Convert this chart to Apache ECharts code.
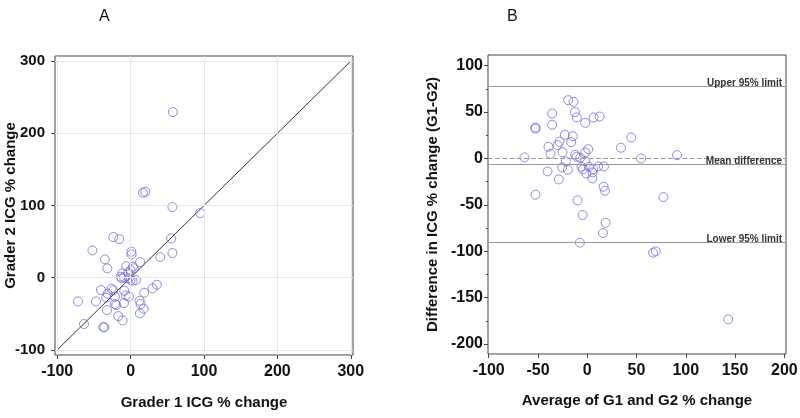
<!DOCTYPE html>
<html><head><meta charset="utf-8">
<script src="https://cdn.jsdelivr.net/npm/echarts@6/dist/echarts.min.js"></script>
<style>html,body{margin:0;padding:0;background:#fff}#c{width:800px;height:418px}</style>
</head><body><div id="c"></div>
<script>
// Panel A: Grader 1 vs Grader 2 ICG % change
const grader1 = [57.6,16.8,20,57,94.8,-23.6,-15.4,55.3,-52,1,1.4,57,40.4,-35,13,-31.7,-5.9,4.5,0,-11.3,-3.2,-9,-12.2,2.7,7.3,0,35.8,29.9,18.6,-40.4,-25.9,-23.6,-31.3,-8.6,-21.3,-6.3,-2.3,-71.7,-47.2,-33.1,12.2,13.6,-9,-21.3,-19.5,-32.2,17.7,12.7,-16.8,-10.9,-63.5,-37.2,-35.8,-13.6,-2.3,3.2];
const grader2 = [229.3,117.6,119,97.8,89.5,56.3,53.5,54.4,37.8,36,32.3,34.1,28.6,25.4,21.7,12.9,16.1,12.9,10.6,6,6.9,0.5,-0.9,-4.2,-3.2,-3.2,-9.7,-14.8,-20.8,-17.1,-15.2,-17.5,-22.1,-18,-26.3,-24.5,-26.3,-32.8,-32.8,-27.7,-31.8,-36.4,-35.1,-36.4,-37.8,-44.8,-42.9,-49.4,-53.1,-59.1,-64.1,-68.3,-68.7,1.4,-0.9,15.2];
const identityLine = [-100, 300];
const ticksA = [-100, 0, 100, 200, 300];

// Panel B: Bland-Altman
const baAverage = [143,66.8,69.5,77.3,91.2,54.6,34.2,44.7,-63.7,-52.5,-52.5,-52.5,-35.6,-35.6,-39.3,-37.3,-40.3,-28.8,-30.2,-28.1,-25.1,-22.7,-21.7,-25.4,-19.7,-19.3,-13.9,-12.5,-10.5,-14.6,-16.3,-12.2,-10.8,-2,6.4,12.5,-9.8,-4.7,-7.5,18.6,16,16.6,18,16.9,11.2,5.4,5.1,-1,1,-2,-7.1,-2,-5.8,-4.4,1.7,6.1];
const baDifference = [-173.4,-101.6,-100.2,-41.7,3.6,0,11.5,22.6,1.1,33.4,32,-39.1,48.5,36.3,12.6,5,-14,-22.6,14.4,18,6.8,25.5,-3.2,-9.7,-12.2,62.8,61,49.9,44.2,24,17.6,4,1.8,38.4,44.2,45.2,-45.2,-61,-90.8,-69.3,-80.4,-30.5,-34.8,-8.6,-8.6,-15.1,-21.5,-16.2,10,6.5,0.7,-3.2,-9,-11.8,-9,-11.5];
const upperLimit = 78;
const meanDifference = -6.3;
const lowerLimit = -90;
const zeroLine = 0;
const ticksBx = [-100, -50, 0, 50, 100, 150, 200];
const ticksBy = [-200, -150, -100, -50, 0, 50, 100];
const minorBy = [-175, -125, -75, -25, 25, 75];

const zip = (a, b) => a.map((v, i) => [v, b[i]]);
const FONT = 'Liberation Sans, Arial, sans-serif';
const markerStyle = {color: 'rgba(0,0,0,0)', borderColor: '#7070da', borderWidth: 1};
const tickLabel = (vals, size, margin) => ({customValues: vals, fontFamily: FONT, fontWeight: 'bold', fontSize: size, color: '#111', margin: margin});
const tickStyle = (vals, len) => ({show: true, customValues: vals, length: len, lineStyle: {color: '#444', width: 1}});
const nameStyle = {fontFamily: FONT, fontWeight: 'bold', fontSize: 15, color: '#111'};
const noLine = {show: false, onZero: false};

const chart = echarts.init(document.getElementById('c'), null, {renderer: 'canvas'});
chart.setOption({
  animation: false,
  backgroundColor: '#fff',
  title: [
    {text: 'A', left: 94, top: 4, textStyle: {fontFamily: FONT, fontWeight: 'normal', fontSize: 16, color: '#111'}},
    {text: 'B', left: 502, top: 4, textStyle: {fontFamily: FONT, fontWeight: 'normal', fontSize: 16, color: '#111'}}
  ],
  grid: [
    {left: 55, right: 447, top: 56, bottom: 63, show: true, borderColor: '#444', borderWidth: 1, containLabel: false, outerBoundsMode: 'none'},
    {left: 488, right: 14, top: 55, bottom: 64, show: true, borderColor: '#444', borderWidth: 1, containLabel: false, outerBoundsMode: 'none'}
  ],
  xAxis: [
    {type: 'value', gridIndex: 0, position: 'bottom', min: -103, max: 303, axisLine: noLine,
     axisTick: tickStyle(ticksA, 4), axisLabel: tickLabel(ticksA, 16, 9), splitLine: {show: false},
     name: 'Grader 1 ICG % change', nameLocation: 'middle', nameGap: 40, nameMoveOverlap: false, nameTextStyle: nameStyle},
    {type: 'value', gridIndex: 1, position: 'bottom', min: -100.7, max: 201.7, axisLine: noLine,
     axisTick: tickStyle(ticksBx, 4), axisLabel: tickLabel(ticksBx, 16, 9), splitLine: {show: false},
     name: 'Average of G1 and G2 % change', nameLocation: 'middle', nameGap: 39, nameMoveOverlap: false, nameTextStyle: nameStyle}
  ],
  yAxis: [
    {type: 'value', gridIndex: 0, position: 'left', min: -107, max: 307, axisLine: noLine,
     axisTick: tickStyle(ticksA, 4), axisLabel: tickLabel(ticksA, 15, 10), splitLine: {show: false},
     name: 'Grader 2 ICG % change', nameLocation: 'middle', nameGap: 37, nameMoveOverlap: false, nameTextStyle: nameStyle},
    {type: 'value', gridIndex: 1, position: 'left', min: -210.8, max: 111.5, axisLine: noLine,
     axisTick: tickStyle(ticksBy, 4), axisLabel: tickLabel(ticksBy, 16, 5), splitLine: {show: false},
     name: 'Difference in ICG % change (G1-G2)', nameLocation: 'middle', nameGap: 48, nameMoveOverlap: false, nameTextStyle: nameStyle},
    {type: 'value', gridIndex: 1, position: 'left', offset: 0, min: -210.8, max: 111.5, axisLine: noLine,
     axisTick: tickStyle(minorBy, 2), axisLabel: {show: false}, splitLine: {show: false}}
  ],
  series: [
    {type: 'line', xAxisIndex: 0, yAxisIndex: 0, silent: true, symbol: 'none', data: [],
     markLine: {silent: true, symbol: 'none', label: {show: false},
       lineStyle: {color: '#e6e6e6', width: 1, type: 'solid'},
       data: ticksA.map(v => ({xAxis: v})).concat(ticksA.map(v => ({yAxis: v})))}},
    {type: 'line', xAxisIndex: 0, yAxisIndex: 0, silent: true, symbol: 'none',
     lineStyle: {color: '#333', width: 1}, data: zip(identityLine, identityLine), z: 3},
    {type: 'scatter', xAxisIndex: 0, yAxisIndex: 0, symbol: 'circle', symbolSize: 9,
     itemStyle: markerStyle, data: zip(grader1, grader2), z: 4},
    {type: 'scatter', xAxisIndex: 1, yAxisIndex: 1, symbol: 'circle', symbolSize: 9,
     itemStyle: markerStyle, data: zip(baAverage, baDifference), z: 4,
     markLine: {silent: true, symbol: 'none', animation: false,
       lineStyle: {color: '#999', width: 1.2, type: 'solid'},
       label: {show: true, position: 'insideEndTop', distance: [4, -2], fontFamily: FONT, fontWeight: 'bold', fontSize: 10, color: '#333'},
       data: [
         {yAxis: upperLimit, label: {formatter: 'Upper 95% limit'}},
         {yAxis: zeroLine, lineStyle: {type: 'dashed', color: '#999'}, label: {show: false}},
         {yAxis: meanDifference, label: {formatter: 'Mean difference'}},
         {yAxis: lowerLimit, label: {formatter: 'Lower 95% limit'}}
       ]}}
  ]
});
</script>
</body></html>
